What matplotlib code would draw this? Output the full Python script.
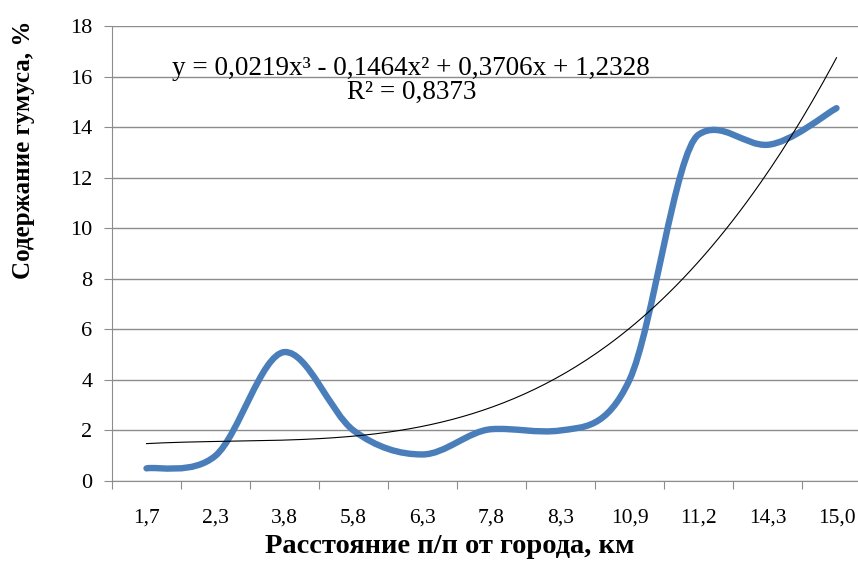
import numpy as np
import matplotlib
matplotlib.use("Agg")
import matplotlib.pyplot as plt
from matplotlib.path import Path
from matplotlib.patches import PathPatch

# distance labels (km) and humus content (%)
labels = ["1,7", "2,3", "3,8", "5,8", "6,3", "7,8", "8,3", "10,9", "11,2", "14,3", "15,0"]
humus = [0.5, 1.0, 5.1, 2.0, 1.05, 2.05, 2.0, 4.0, 13.7, 13.3, 14.75]
# polynomial trendline coefficients as printed on the chart (x = point number)
trend_coef = [0.0219, -0.1464, 0.3706, 1.2328]
trend_text = "y = 0,0219x³ - 0,1464x² + 0,3706x + 1,2328"
r2_text = "R² = 0,8373"

plt.rcParams["font.family"] = ["Liberation Serif", "DejaVu Serif"]

fig = plt.figure(figsize=(8.58, 5.63), dpi=100)
ax = fig.add_axes([112 / 858, 82 / 563, 759 / 858, 455 / 563])
ax.set_xlim(0.5, len(humus) + 0.5)
ax.set_ylim(0, 18)

x = np.arange(1, len(humus) + 1)
y = np.array(humus, dtype=float)


def smooth_path(xs, ys):
    # smoothed line like Excel: Catmull-Rom style Bezier segments,
    # vertical part of the tangent softened at local peaks/dips to limit overshoot
    pts = np.column_stack([xs, ys])
    n = len(pts)
    tang = []
    for i in range(n):
        a, b = max(i - 1, 0), min(i + 1, n - 1)
        t = (pts[b] - pts[a]) / 6.0
        if 0 < i < n - 1 and (ys[i] - ys[a]) * (ys[b] - ys[i]) < 0:
            t[1] *= 0.4
        tang.append(t)
    verts = [pts[0]]
    codes = [Path.MOVETO]
    for i in range(n - 1):
        verts += [pts[i] + tang[i], pts[i + 1] - tang[i + 1], pts[i + 1]]
        codes += [Path.CURVE4] * 3
    return Path(verts, codes)


ax.add_patch(PathPatch(smooth_path(x, y), facecolor="none", edgecolor="#4a7ebb",
                       lw=4.6, capstyle="round", joinstyle="round", zorder=3))

xt = np.linspace(1, len(humus), 200)
ax.plot(xt, np.polyval(trend_coef, xt), color="black", lw=0.8, zorder=4)

ax.set_yticks(np.arange(0, 19, 2))
ax.grid(axis="y", color="#8c8c8c", lw=1.0)
ax.set_axisbelow(True)

ax.set_xticks(np.arange(0.5, len(humus) + 1, 1))
ax.set_xticklabels([])
ax.set_xticks(x, minor=True)
ax.set_xticklabels(labels, minor=True)
ax.tick_params(axis="x", which="major", length=6, color="#8c8c8c", direction="out")
ax.tick_params(axis="x", which="minor", length=0, pad=20, labelsize=15.5)
ax.tick_params(axis="y", length=6, color="#8c8c8c", labelsize=16, pad=8)

for s in ["top", "right"]:
    ax.spines[s].set_visible(False)
for s in ["left", "bottom"]:
    ax.spines[s].set_color("#8c8c8c")

ax.set_ylabel("Содержание гумуса, %", fontsize=18, fontweight="bold")
ax.yaxis.set_label_coords(-0.116, 0.727)
ax.yaxis.label.set_va("center")
ax.set_xlabel("Расстояние п/п от города, км", fontsize=20.5, fontweight="bold")
ax.xaxis.set_label_coords(0.445, -0.145)
ax.xaxis.label.set_va("center")

ax.text(4.83, 16.06, trend_text, fontsize=19.5, ha="center", va="baseline")
ax.text(4.85, 15.11, r2_text, fontsize=19.5, ha="center", va="baseline")

fig.savefig("out.png", dpi=100)
